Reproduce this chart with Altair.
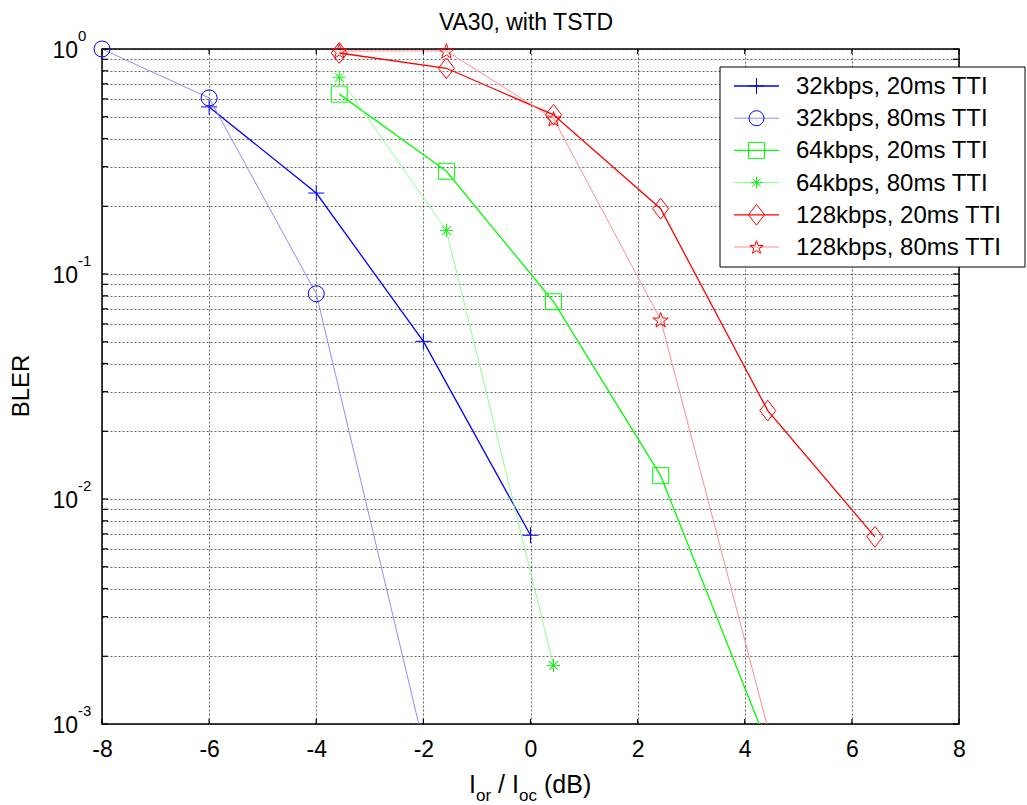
import math
import altair as alt
import pandas as pd

# ---------------- data ----------------
series_names = [
    "32kbps, 20ms TTI",
    "32kbps, 80ms TTI",
    "64kbps, 20ms TTI",
    "64kbps, 80ms TTI",
    "128kbps, 20ms TTI",
    "128kbps, 80ms TTI",
]
x_32_20 = [-6, -4, -2, 0]
y_32_20 = [0.553, 0.229, 0.0502, 0.0069]
x_32_80 = [-8, -6, -4, -2]
y_32_80 = [1.0, 0.606, 0.0817, 0.00082]
x_64_20 = [-3.57, -1.57, 0.43, 2.43, 4.43]
y_64_20 = [0.63, 0.286, 0.0753, 0.0127, 0.0008]
x_64_80 = [-3.57, -1.57, 0.43]
y_64_80 = [0.749, 0.156, 0.00182]
x_128_20 = [-3.57, -1.57, 0.43, 2.43, 4.43, 6.43]
y_128_20 = [0.96, 0.821, 0.51, 0.195, 0.0247, 0.00679]
x_128_80 = [-3.57, -1.57, 0.43, 2.43, 4.43]
y_128_80 = [0.98, 0.98, 0.49, 0.0626, 0.00096]

series_x = [x_32_20, x_32_80, x_64_20, x_64_80, x_128_20, x_128_80]
series_y = [y_32_20, y_32_80, y_64_20, y_64_80, y_128_20, y_128_80]

x_tick_values = [-8, -6, -4, -2, 0, 2, 4, 6, 8]
y_decades = [0.001, 0.01, 0.1, 1]
y_exponents = ["-3", "-2", "-1", "0"]
y_grid_values = [m * d for d in [0.001, 0.01, 0.1] for m in range(1, 10)] + [1]

# ---------------- styles ----------------
FONT = "Liberation Sans"
W, H = 857, 675
line_colors = ["#0000ff", "#8080ff", "#00ff00", "#80ff80", "#ff0000", "#ff8080"]
marker_colors = ["#0000ff", "#0000ff", "#00ff00", "#00ff00", "#ff0000", "#ff0000"]
line_widths = [1.3, 0.9, 1.3, 0.9, 1.3, 0.9]

PLUS = "M-1,0L1,0M0,-1L0,1"
ASTER = "M-1,0L1,0M0,-1L0,1M-0.7,-0.7L0.7,0.7M-0.7,0.7L0.7,-0.7"
DIAMOND = "M0,-1.3L1,0L0,1.3L-1,0Z"
_pts = []
for k in range(10):
    r = 1.0 if k % 2 == 0 else 0.4
    a = math.radians(-90 + 36 * k)
    _pts.append(f"{r*math.cos(a):.3f},{r*math.sin(a)+0.1:.3f}")
STAR = "M" + "L".join(_pts) + "Z"
marker_shapes = [PLUS, "circle", "square", ASTER, DIAMOND, STAR]
marker_sizes = [256, 256, 256, 169, 256, 256]
legend_sizes = [256, 225, 256, 144, 256, 196]

xscale = alt.Scale(domain=[-8, 8], nice=False, zero=False)
yscale = alt.Scale(type="log", domain=[0.001, 1], nice=False)

grid_kw = dict(grid=True, gridColor="#000000", gridOpacity=0.6, gridDash=[2, 2],
               gridWidth=1, domain=False, ticks=False)
x_axis = alt.Axis(values=x_tick_values, title=None, labelFont=FONT, labelFontSize=23,
                  labelColor="#000000", labelPadding=14, labelFlush=False,
                  labelExpr="'' + datum.value", **grid_kw)
y_axis = alt.Axis(values=y_grid_values, title=None, labels=False, **grid_kw)

X = alt.X("x:Q", scale=xscale, axis=x_axis)
Y = alt.Y("y:Q", scale=yscale, axis=y_axis)

layers = []

# series lines and markers
for i, name in enumerate(series_names):
    df = pd.DataFrame({"x": series_x[i], "y": series_y[i]})
    layers.append(
        alt.Chart(df).mark_line(clip=True, color=line_colors[i], strokeWidth=line_widths[i])
        .encode(x=X, y=Y)
    )
    layers.append(
        alt.Chart(df).transform_filter("datum.y >= 0.001")
        .mark_point(filled=False, shape=marker_shapes[i], size=marker_sizes[i],
                    color=marker_colors[i], strokeWidth=1, opacity=1)
        .encode(x=X, y=Y)
    )

# inward ticks
xt = pd.DataFrame({"x": x_tick_values})
yt = pd.DataFrame({"y": y_grid_values})
layers.append(alt.Chart(xt).mark_rule(color="black", strokeWidth=1.2)
              .encode(x=X, y=alt.value(H), y2=alt.value(H - 5)))
layers.append(alt.Chart(xt).mark_rule(color="black", strokeWidth=1.2)
              .encode(x=X, y=alt.value(0), y2=alt.value(5)))
layers.append(alt.Chart(yt).mark_rule(color="black", strokeWidth=1.2)
              .encode(y=Y, x=alt.value(0), x2=alt.value(6)))
layers.append(alt.Chart(yt).mark_rule(color="black", strokeWidth=1.2)
              .encode(y=Y, x=alt.value(W), x2=alt.value(W - 6)))

# y tick labels 10^n
yl = pd.DataFrame({"y": y_decades, "e": y_exponents})
layers.append(alt.Chart(yl).mark_text(font=FONT, fontSize=23, align="right",
                                      baseline="middle", dy=2, color="black", text="10")
              .encode(y=Y, x=alt.value(-24)))
layers.append(alt.Chart(yl).mark_text(font=FONT, fontSize=15, align="left",
                                      baseline="alphabetic", dy=-8, color="black")
              .encode(y=Y, x=alt.value(-24), text="e:N"))

one = pd.DataFrame({"k": [0]})

# title
layers.append(alt.Chart(one).mark_text(text="VA30, with TSTD", font=FONT, fontSize=23,
                                       align="center", baseline="alphabetic", color="black")
              .encode(x=alt.value(424), y=alt.value(-19)))
# y title
layers.append(alt.Chart(one).mark_text(text="BLER", font=FONT, fontSize=24, angle=270,
                                       align="center", baseline="middle", color="black")
              .encode(x=alt.value(-80), y=alt.value(337)))
# x title pieces: I_or / I_oc (dB)
xt_pieces = [("I", 25, 367, 0), ("or", 17, 374, 8), ("/ I", 25, 396, 0),
             ("oc", 17, 417, 8), ("(dB)", 25, 442, 0)]
for txt, fs, px, dyy in xt_pieces:
    layers.append(alt.Chart(one).mark_text(text=txt, font=FONT, fontSize=fs, align="left",
                                           baseline="alphabetic", color="black")
                  .encode(x=alt.value(px), y=alt.value(744 + dyy)))

# legend
LX0, LX1, LY0, LY1 = 618, 923, 18, 218
layers.append(alt.Chart(one).mark_rect(fill="white", stroke="black", strokeWidth=1)
              .encode(x=alt.value(LX0), x2=alt.value(LX1), y=alt.value(LY0), y2=alt.value(LY1)))
for i, name in enumerate(series_names):
    ry = 37 + i * 32.2
    layers.append(alt.Chart(one).mark_rule(color=line_colors[i], strokeWidth=line_widths[i])
                  .encode(x=alt.value(632), x2=alt.value(677), y=alt.value(ry)))
    layers.append(alt.Chart(one).mark_point(filled=False, shape=marker_shapes[i],
                                            size=legend_sizes[i], color=marker_colors[i],
                                            strokeWidth=1, opacity=1)
                  .encode(x=alt.value(654.5), y=alt.value(ry)))
    layers.append(alt.Chart(one).mark_text(text=name, font=FONT, fontSize=24, align="left",
                                           baseline="middle", color="black", dy=1)
                  .encode(x=alt.value(694), y=alt.value(ry)))

chart = (
    alt.layer(*layers)
    .properties(width=W, height=H, background="white",
                autosize=alt.AutoSizeParams(type="none"),
                padding={"left": 102, "top": 49, "right": 68, "bottom": 81})
    .configure_view(stroke="black", strokeWidth=1.5)
)

chart.save("out.html", embed_options={"renderer": "svg", "actions": False})
